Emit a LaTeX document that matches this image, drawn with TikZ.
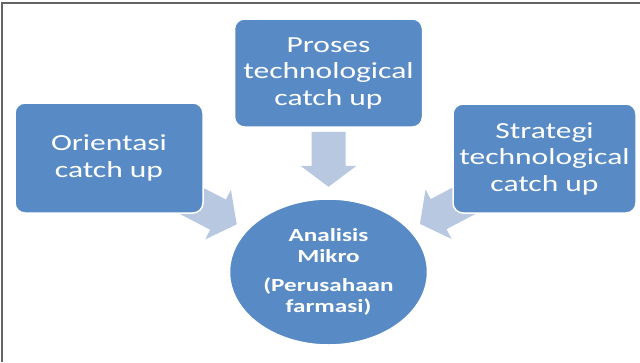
\documentclass[tikz,border=0pt]{standalone}
\usepackage{fontspec}
\usetikzlibrary{calc,backgrounds,shapes.geometric}
\newfontfamily\boxfont[FakeStretch=1.37]{Carlito}
\newfontfamily\circfont[FakeStretch=1.36]{Carlito}
\definecolor{boxblue}{RGB}{88,139,197}
\definecolor{arrowblue}{RGB}{184,200,225}
\definecolor{framegray}{RGB}{100,100,100}
\tikzset{
  boxnode/.style={rectangle, rounded corners=10pt, fill=boxblue, draw=white, line width=1.5pt,
    text=white, align=center, inner sep=0pt, font=\boxfont\fontsize{23}{26.5}\selectfont},
  circnode/.style={ellipse, fill=boxblue, draw=white, line width=1.5pt, text=white,
    align=center, inner sep=0pt, font=\circfont\bfseries\fontsize{18.5}{20.5}\selectfont},
  blockarrowfill/.style={fill=arrowblue}
}
% #1 source node, #2 target node, #3 prefix for coordinates
\newcommand\blockarrow[3]{%
  \path (#1.center) -- (#2) coordinate[pos=1] (#3b);
  \coordinate (#3t) at ($(#3b)!11.5pt!(#1.center)$);
  \coordinate (#3h) at ($(#3t)!21pt!(#1.center)$);
  \coordinate (#3s) at ($(#3t)!55pt!(#1.center)$);
  \fill[blockarrowfill] ($(#3s)!17pt!90:(#3t)$) -- ($(#3h)!17pt!90:(#3t)$)
    -- ($(#3h)!28pt!90:(#3t)$) -- (#3t) -- ($(#3h)!28pt!-90:(#3t)$)
    -- ($(#3h)!17pt!-90:(#3t)$) -- ($(#3s)!17pt!-90:(#3t)$) -- cycle;
}
\begin{document}
\begin{tikzpicture}[x=1pt,y=-1pt]
\useasboundingbox (0,0) rectangle (640,362);
\node[boxnode, minimum width=188pt, minimum height=110pt] (lb) at (109,158) {Orientasi\\catch up};
\node[boxnode, minimum width=188pt, minimum height=108pt] (tb) at (328.5,73) {Proses\\technological\\catch up};
\node[boxnode, minimum width=183pt, minimum height=109pt] (rb) at (544.5,158.5) {Strategi\\technological\\catch up};
\node[circnode, minimum width=198pt, minimum height=146pt] (circ) at (328.5,272) {Analisis\\Mikro\\[9pt](Perusahaan\\farmasi)};
\begin{scope}[on background layer]
  \fill[white] (0,0) rectangle (640,362);
  \draw[framegray, line width=1.3pt] (2,362) -- (2,3) -- (640,3);
  \blockarrow{lb}{circ}{al}
  \blockarrow{tb}{circ}{at}
  \blockarrow{rb}{circ}{ar}
\end{scope}
\end{tikzpicture}
\end{document}
